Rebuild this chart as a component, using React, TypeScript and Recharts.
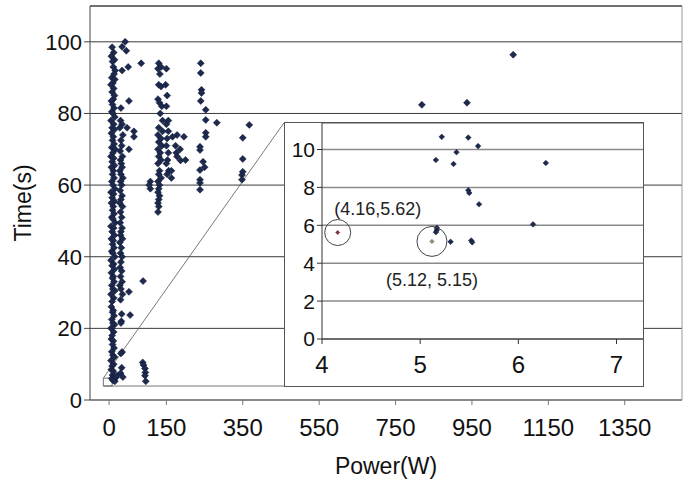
import React from 'react';
import {
  ScatterChart,
  Scatter,
  XAxis,
  YAxis,
  CartesianGrid,
  ReferenceLine,
  ReferenceArea,
  ReferenceDot,
} from 'recharts';

// main plot: power (W) vs time (s)
const lowPowerA: [number, number][] = [
  [8, 98.5], [12, 97], [6, 96], [14, 95], [9, 94.5], [11, 93], [16, 92], [13, 91], [7, 90], [15, 89.5],
  [10, 88.5], [5, 88], [12, 87], [8, 86], [14, 85], [11, 84], [6, 83.5], [9, 82.5], [13, 81.5], [7, 80.5],
  [10, 80], [15, 79], [5, 78], [12, 77], [8, 76], [14, 75.5], [6, 74.5], [11, 73.5], [9, 72.5], [13, 71.5],
  [7, 70.5], [16, 70], [10, 69], [5, 68], [12, 67.5], [8, 66.5], [14, 65.5], [6, 65], [11, 64], [9, 63],
  [13, 62], [7, 61], [10, 60], [15, 59], [5, 58], [12, 57.5], [8, 56.5], [14, 55.5], [6, 55], [11, 54],
  [9, 53], [13, 52], [7, 51], [10, 50.5], [16, 49.5], [5, 48.5], [12, 48], [8, 47], [14, 46], [6, 45],
  [11, 44.5], [9, 43.5], [13, 42.5], [7, 41.5], [10, 41], [15, 40], [5, 39], [12, 38], [8, 37.5], [14, 36.5],
  [6, 35.5], [11, 34.5], [9, 34], [13, 33], [7, 32], [10, 31], [15, 30.5], [5, 29.5], [12, 28.5], [8, 27.5],
  [6, 26], [11, 25], [9, 24.5], [13, 23.5], [7, 22.5], [10, 21.5], [14, 21], [5, 20], [12, 19], [8, 18],
  [6, 17], [11, 16.5], [9, 15.5], [13, 14.5], [7, 13.5], [10, 12.5], [14, 12], [5, 11], [12, 10], [8, 9.5],
  [6, 8.5], [11, 8], [9, 7], [13, 6.5], [7, 6], [10, 5.5], [15, 5.2], [18, 6.3], [20, 6.8],
];

const lowPowerB: [number, number][] = [
  [30, 78], [34, 77], [28, 76], [36, 74], [31, 72.5], [33, 71], [29, 69.5], [35, 68], [30, 67], [32, 66],
  [34, 65], [28, 64], [31, 63], [36, 62], [30, 61], [33, 60], [29, 58.5], [34, 57], [31, 56], [28, 55],
  [35, 54], [30, 52.5], [33, 51], [29, 49.5], [34, 48], [31, 47], [30, 46], [35, 45], [28, 44], [32, 42.5],
  [30, 41], [34, 40], [31, 38.5], [29, 37], [33, 36], [30, 34.5], [34, 33], [28, 32], [31, 31], [35, 29.5],
  [30, 28], [33, 24], [32, 22], [31, 21.5], [34, 13.4], [31, 13], [33, 9], [30, 7.5], [36, 6.4],
  [42, 100], [34, 98.6], [45, 97.5], [50, 93], [34, 92], [84, 94], [52, 83.5], [31, 81.5], [47, 76],
  [65, 75], [65, 73.5], [52, 70], [55, 23.7], [52, 30.2], [89, 33.2],
  [88, 10.5], [90, 9.8], [94, 8.8], [95, 7.7], [94, 6.8], [96, 5.2],
];

const midPower: [number, number][] = [
  [130, 94], [136, 93], [128, 92.5], [133, 91], [130, 88], [136, 87.5], [128, 84], [132, 83], [138, 82],
  [134, 80], [140, 78], [130, 76], [140, 75], [128, 74], [136, 73], [130, 72], [138, 71], [128, 70],
  [134, 69], [130, 68], [136, 67], [128, 66], [132, 64], [130, 63], [136, 62], [128, 61], [132, 60],
  [130, 59], [128, 58], [132, 57], [130, 56], [128, 55], [130, 54], [128, 52.5],
  [150, 92.5], [148, 88], [152, 85], [150, 82], [155, 78], [150, 77], [155, 75], [152, 73], [150, 71],
  [155, 69], [153, 67], [150, 66], [156, 64], [152, 63],
  [108, 61], [108, 59], [105, 60],
  [178, 74], [186, 70], [187, 66.9], [166, 73.5], [174, 71], [176, 69], [178, 68], [163, 64], [163, 62],
  [196, 73.5], [200, 67],
];

const highPower: [number, number][] = [
  [240, 94], [240, 91.3], [242, 86.6], [242, 85.7], [240, 83.5], [253, 81], [253, 78.2], [282, 77.4],
  [253, 74.6], [253, 73.5], [238, 70.7], [238, 69.8], [246, 66.5], [250, 65], [238, 64.2], [238, 61.5],
  [238, 60.6], [238, 58.7],
  [367, 76.8], [350, 73.2], [350, 67.3], [350, 63.7], [348, 62.8], [348, 61.5],
  [819, 82.4], [937, 83], [1058, 96.4],
];

const mainXTicks = [0, 150, 350, 550, 750, 950, 1150, 1350];
const mainYTicks = [0, 20, 40, 60, 80, 100];

// zoom box drawn on the main plot and the two lines leading to the inset
const zoomBox = { x1: -15, x2: 8, y1: 3.9, y2: 6.1 };
const insetCorner = { top: { x: 458, y: 77.4 }, bottom: { x: 458, y: 3.9 } };

// inset: close-up of the smallest points
const insetPoints: [number, number][] = [
  [5.22, 10.67], [5.49, 10.63], [5.59, 10.18], [5.37, 9.86], [5.16, 9.45], [5.34, 9.24], [6.28, 9.29],
  [5.49, 7.85], [5.5, 7.71], [5.6, 7.11], [5.17, 5.87], [5.17, 5.75], [5.16, 5.64], [6.15, 6.05],
  [5.31, 5.13], [5.52, 5.2], [5.53, 5.1],
];
const redPoint = { x: 4.16, y: 5.62 };
const greenPoint = { x: 5.12, y: 5.15 };
const insetXTicks = [4, 5, 6, 7];
const insetYTicks = [0, 2, 4, 6, 8, 10];

const toPts = (arr: [number, number][]) => arr.map(([x, y]) => ({ x, y }));

const FONT = '"Liberation Sans", Arial, sans-serif';
const NAVY = '#1d2a4e';

const diamond = (half: number, fill: string) => (props: any) => {
  const { cx, cy } = props;
  if (cx == null || cy == null) return <g />;
  return (
    <polygon
      points={`${cx},${cy - half} ${cx + half},${cy} ${cx},${cy + half} ${cx - half},${cy}`}
      fill={fill}
      stroke="#0d1530"
      strokeWidth={0.5}
    />
  );
};

function Inset() {
  return (
    <div
      style={{
        position: 'absolute',
        left: 285,
        top: 123,
        width: 358,
        height: 263,
        background: '#fff',
        boxShadow: '0 0 0 1px #555',
      }}
    >
      <ScatterChart width={358} height={263} margin={{ top: 0, right: 0, left: 0, bottom: 0 }}>
        <CartesianGrid vertical={false} stroke="#8a8a8a" strokeWidth={1.5} />
        <XAxis
          type="number"
          dataKey="x"
          domain={[4, 7.27]}
          ticks={insetXTicks}
          height={47}
          tickSize={5}
          tickMargin={12}
          stroke="#333"
          tick={{ fill: '#111', fontSize: 24, fontFamily: FONT }}
        />
        <YAxis
          type="number"
          dataKey="y"
          domain={[0, 11.4]}
          ticks={insetYTicks}
          width={37}
          tickSize={5}
          tickMargin={2}
          stroke="#333"
          tick={{ fill: '#111', fontSize: 21, fontFamily: FONT }}
        />
        <Scatter data={toPts(insetPoints)} shape={diamond(2.8, NAVY)} isAnimationActive={false} />
        <Scatter data={[redPoint]} shape={diamond(2, '#9b2a2a')} isAnimationActive={false} />
        <Scatter data={[greenPoint]} shape={diamond(2, '#7fae5e')} isAnimationActive={false} />
        <ReferenceDot
          x={redPoint.x}
          y={redPoint.y}
          r={13}
          fill="none"
          stroke="#444"
          strokeWidth={1}
          label={{ value: '(4.16,5.62)', position: 'top', offset: 5, dx: 40, fill: '#222', fontSize: 18, fontFamily: FONT }}
        />
        <ReferenceDot
          x={greenPoint.x}
          y={greenPoint.y}
          r={15}
          fill="none"
          stroke="#444"
          strokeWidth={1}
          label={{ value: '(5.12, 5.15)', position: 'bottom', offset: 17, fill: '#222', fontSize: 18, fontFamily: FONT }}
        />
      </ScatterChart>
    </div>
  );
}

export default function App() {
  return (
    <div style={{ position: 'absolute', left: 0, top: 0, width: 694, height: 481, background: '#fff' }}>
      <ScatterChart width={694} height={481} margin={{ top: 6, right: 12, left: 0, bottom: 0 }}>
        <CartesianGrid vertical={false} stroke="#3a3a3a" />
        <XAxis
          type="number"
          dataKey="x"
          domain={[-50, 1500]}
          ticks={mainXTicks}
          height={81}
          tickSize={5}
          tickMargin={14}
          stroke="#777"
          tick={{ fill: '#111', fontSize: 24, fontFamily: FONT }}
          label={{ value: 'Power(W)', position: 'center', dy: 25, fill: '#111', fontSize: 23, fontFamily: FONT }}
        />
        <YAxis
          type="number"
          dataKey="y"
          domain={[0, 110]}
          ticks={mainYTicks}
          width={90}
          tickSize={6}
          tickMargin={2}
          stroke="#444"
          tick={{ fill: '#111', fontSize: 22, fontFamily: FONT }}
          label={{ value: 'Time(s)', angle: -90, position: 'center', dx: -22, fill: '#111', fontSize: 23, fontFamily: FONT }}
        />
        <ReferenceLine y={110} stroke="#444" />
        <ReferenceLine x={1500} stroke="#999" />
        <Scatter data={toPts(lowPowerA)} shape={diamond(3.5, NAVY)} isAnimationActive={false} />
        <Scatter data={toPts(lowPowerB)} shape={diamond(3.5, NAVY)} isAnimationActive={false} />
        <Scatter data={toPts(midPower)} shape={diamond(3.5, NAVY)} isAnimationActive={false} />
        <Scatter data={toPts(highPower)} shape={diamond(3.5, NAVY)} isAnimationActive={false} />
        <ReferenceArea {...zoomBox} fill="none" stroke="#777" strokeWidth={1} fillOpacity={0} />
        <ReferenceLine
          segment={[{ x: zoomBox.x1, y: zoomBox.y2 }, insetCorner.top]}
          stroke="#555"
          strokeWidth={0.8}
        />
        <ReferenceLine
          segment={[{ x: zoomBox.x1, y: zoomBox.y1 }, insetCorner.bottom]}
          stroke="#555"
          strokeWidth={0.8}
        />
      </ScatterChart>
      <Inset />
    </div>
  );
}
